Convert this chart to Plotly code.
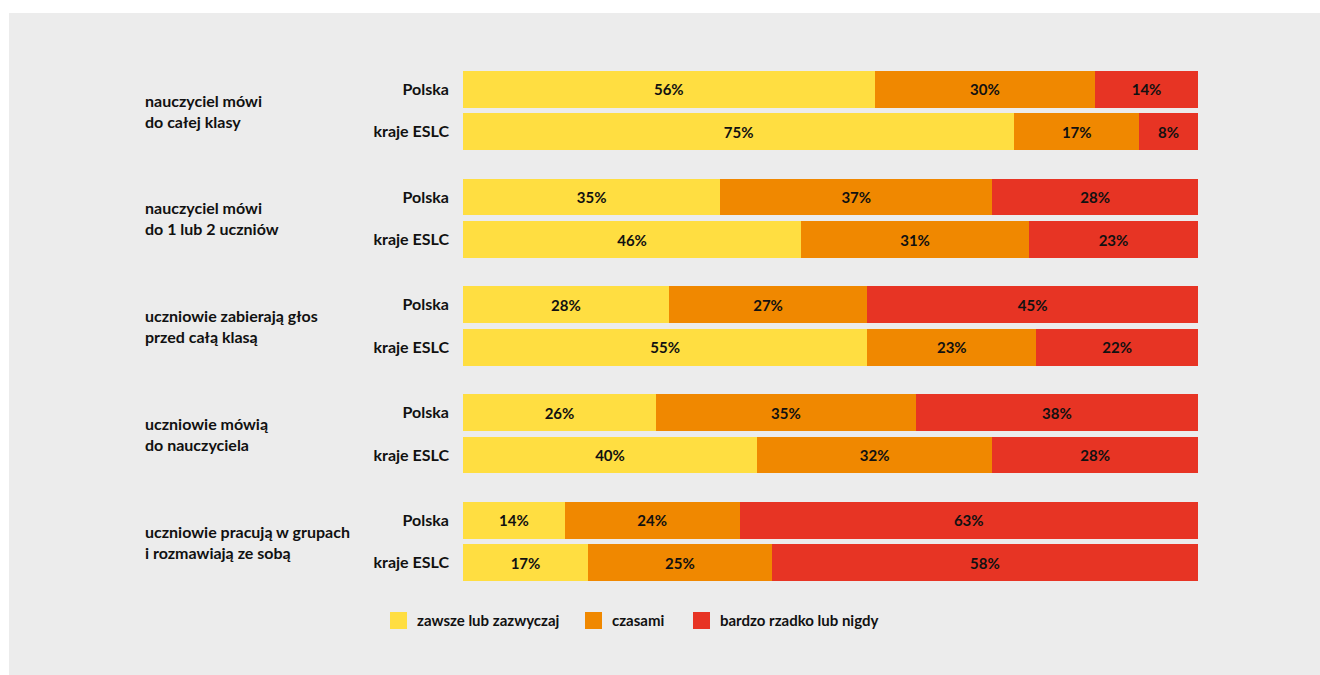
import plotly.graph_objects as go

groups = [
    "nauczyciel mówi<br>do całej klasy",
    "nauczyciel mówi<br>do 1 lub 2 uczniów",
    "uczniowie zabierają głos<br>przed całą klasą",
    "uczniowie mówią<br>do nauczyciela",
    "uczniowie pracują w grupach<br>i rozmawiają ze sobą",
]
rows = ["Polska", "kraje ESLC"]
series = ["zawsze lub zazwyczaj", "czasami", "bardzo rzadko lub nigdy"]
colors = ["#FFDE41", "#F08800", "#E73424"]

# values per group: [Polska, kraje ESLC]
zawsze = [[56, 75], [35, 46], [28, 55], [26, 40], [14, 17]]
czasami = [[30, 17], [37, 31], [27, 23], [35, 32], [24, 25]]
rzadko = [[14, 8], [28, 23], [45, 22], [38, 28], [63, 58]]

# plot area in pixels
L, R, T, B = 463, 1198, 68, 584
W, H = R - L, B - T

GROUP_PITCH = 2.535
ypos, ylab = [], []
for g in range(len(groups)):
    for j, r in enumerate(rows):
        ypos.append(g * GROUP_PITCH + j)
        ylab.append(r)

FONT = "Lato"
INK = "#111111"
fig = go.Figure()
for name, col, data in zip(series, colors, [zawsze, czasami, rzadko]):
    vals = [v for pair in data for v in pair]
    fig.add_trace(go.Bar(
        x=vals, y=ypos, orientation="h", name=name,
        marker=dict(color=col, line=dict(width=0)),
        width=0.87,
        text=[f"{v}%" for v in vals],
        textposition="inside", insidetextanchor="middle", textangle=0,
        textfont=dict(family=FONT, size=15, color=INK, weight="bold"),
        hoverinfo="skip", showlegend=False,
    ))

for g, label in enumerate(groups):
    fig.add_annotation(
        x=(143 - L) / W, xref="paper", xanchor="left",
        y=g * GROUP_PITCH + 0.5, yref="y", yanchor="middle",
        text=label, showarrow=False, align="left",
        font=dict(family=FONT, size=16, color=INK, weight="bold"),
    )

# legend: coloured squares with labels
def px_x(p):
    return (p - L) / W

def px_y(p):
    return (B - p) / H

legend_x = [390, 585, 693]
for lx, name, col in zip(legend_x, series, colors):
    fig.add_shape(type="rect", xref="paper", yref="paper",
                  x0=px_x(lx), x1=px_x(lx + 17), y0=px_y(629), y1=px_y(612),
                  fillcolor=col, line=dict(width=0))
    fig.add_annotation(x=px_x(lx + 25), xref="paper", xanchor="left",
                       y=px_y(620), yref="paper", yanchor="middle",
                       text=name, showarrow=False,
                       font=dict(family=FONT, size=15, color=INK, weight="bold"))

# gray panel behind the chart
fig.add_shape(type="rect", xref="paper", yref="paper",
              x0=px_x(9), x1=px_x(1330), y0=px_y(690), y1=px_y(13),
              layer="below", fillcolor="#ECECEC", line=dict(width=0))

last = (len(groups) - 1) * GROUP_PITCH + 1
fig.update_layout(
    width=1320, height=675,
    margin=dict(l=L, r=1320 - R, t=T, b=675 - B),
    paper_bgcolor="white", plot_bgcolor="#ECECEC",
    barmode="stack", barnorm="percent",
    showlegend=False,
    xaxis=dict(range=[0, 100], visible=False, fixedrange=True),
    yaxis=dict(range=[last + 0.5, -0.5], tickvals=ypos, ticktext=ylab,
               showgrid=False, zeroline=False, showline=False,
               ticks="", ticklabelstandoff=13,
               tickfont=dict(family=FONT, size=16, color=INK, weight="bold")),
)

fig.write_html("out.html")
